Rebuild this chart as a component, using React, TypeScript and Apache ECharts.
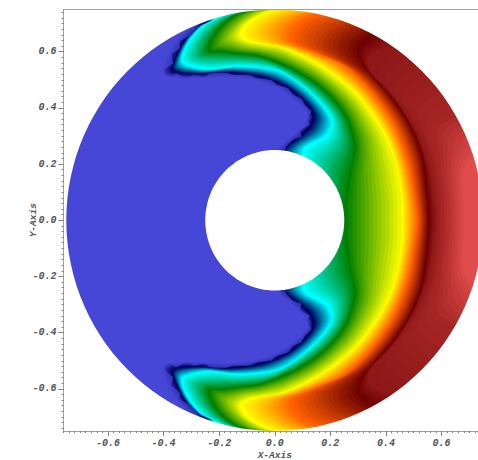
import React, { useEffect, useRef } from "react";
import * as echarts from "echarts";

const xRange = [-0.76, 0.76];
const yRange = [-0.75, 0.75];
const majorTicks = [-0.6, -0.4, -0.2, 0, 0.2, 0.4, 0.6];
const xMinorTicks: number[] = [];
for (let i = -38; i <= 38; i++) xMinorTicks.push(i / 50);
const yMinorTicks: number[] = [];
for (let i = -37; i <= 37; i++) yMinorTicks.push(i / 50);
const outerRadius = 0.75;
const innerRadius = 0.25;

// hot_desaturated colour stops, by field level
const colorStops = [
  [71, 71, 215], [0, 0, 91], [0, 255, 255], [0, 127, 0],
  [255, 255, 0], [255, 96, 0], [107, 0, 0], [224, 76, 76],
];

// Iso-contours of the field in the upper half (the lower half mirrors them)
const contour0 = [[-0.02,0],[-0.02,0.19],[0.006,0.25],[0.102,0.336],[0.118,0.375],[0.084,0.416],[0.018,0.464],[-0.066,0.496],[-0.174,0.508],[-0.282,0.503],[-0.402,0.517],[-0.39,0.582],[-0.354,0.642],[-0.312,0.683],[-0.27,0.707],[-0.3,0.78]];
const contour1 = [[0,0],[0,0.19],[0.03,0.25],[0.12,0.327],[0.138,0.375],[0.102,0.428],[0.03,0.482],[-0.066,0.514],[-0.174,0.526],[-0.282,0.521],[-0.366,0.533],[-0.352,0.588],[-0.318,0.648],[-0.276,0.689],[-0.24,0.711],[-0.265,0.78]];
const contour2 = [[0.16,0],[0.13,0.14],[0.102,0.25],[0.186,0.304],[0.204,0.351],[0.174,0.405],[0.102,0.476],[0.018,0.529],[-0.126,0.547],[-0.246,0.537],[-0.33,0.559],[-0.333,0.588],[-0.306,0.642],[-0.264,0.689],[-0.216,0.719],[-0.24,0.79]];
const contour3 = [[0.25,0],[0.25,0.06],[0.262,0.15],[0.284,0.26],[0.25,0.375],[0.16,0.476],[0.054,0.541],[-0.054,0.582],[-0.126,0.591],[-0.198,0.6],[-0.24,0.6],[-0.231,0.642],[-0.198,0.689],[-0.15,0.727],[-0.114,0.745],[-0.12,0.8]];
const contour4 = [[0.456,0],[0.456,0.072],[0.43,0.215],[0.385,0.32],[0.29,0.45],[0.16,0.55],[0.018,0.618],[-0.054,0.628],[-0.096,0.636],[-0.126,0.656],[-0.12,0.677],[-0.096,0.707],[-0.06,0.728],[-0.024,0.745],[0.006,0.752],[0.01,0.8]];
const contour5 = [[0.512,0],[0.504,0.072],[0.48,0.203],[0.426,0.345],[0.342,0.464],[0.246,0.553],[0.138,0.6],[0.06,0.636],[0.054,0.66],[0.066,0.683],[0.09,0.707],[0.12,0.725],[0.15,0.734],[0.174,0.739],[0.198,0.743],[0.21,0.8]];
const contour6 = [[0.552,0],[0.548,0.072],[0.528,0.227],[0.488,0.333],[0.426,0.428],[0.366,0.499],[0.318,0.553],[0.3,0.588],[0.297,0.612],[0.306,0.63],[0.324,0.644],[0.342,0.656],[0.36,0.662],[0.378,0.66],[0.4,0.67],[0.45,0.75]];
const contour63 = [[0.574,0],[0.57,0.072],[0.55,0.2],[0.51,0.31],[0.45,0.41],[0.4,0.47],[0.35,0.52],[0.335,0.56],[0.34,0.585],[0.36,0.6],[0.38,0.61],[0.4,0.62],[0.42,0.62],[0.44,0.61],[0.46,0.62],[0.5,0.7]];
const contour65 = [[0.6,0],[0.598,0.072],[0.59,0.16],[0.58,0.23],[0.568,0.285],[0.562,0.321],[0.57,0.345],[0.594,0.363],[0.624,0.375],[0.654,0.393],[0.68,0.42],[0.7,0.45],[0.72,0.48],[0.74,0.5],[0.76,0.52],[0.8,0.56]];
const contour7 = [[0.68,0],[0.678,0.072],[0.675,0.16],[0.688,0.2],[0.71,0.22],[0.73,0.24],[0.75,0.26],[0.77,0.28],[0.79,0.3],[0.8,0.32],[0.81,0.34],[0.82,0.36],[0.83,0.38],[0.84,0.4],[0.85,0.42],[0.9,0.45]];

// Jagged outer edge of the uniform blue region
const blueFringe = [[0.02,0.2],[0.042,0.262],[0.066,0.286],[0.096,0.298],[0.09,0.321],[0.126,0.339],[0.114,0.363],[0.132,0.387],[0.108,0.41],[0.096,0.434],[0.066,0.446],[0.048,0.47],[0.006,0.482],[-0.012,0.499],[-0.066,0.505],[-0.09,0.517],[-0.15,0.517],[-0.174,0.525],[-0.234,0.523],[-0.252,0.511],[-0.294,0.517],[-0.318,0.502],[-0.354,0.523],[-0.384,0.502],[-0.396,0.535],[-0.366,0.559],[-0.372,0.588],[-0.342,0.612],[-0.342,0.636],[-0.312,0.654],[-0.27,0.7],[-0.29,0.78]];

const contourLevels = [0, 1, 2, 3, 4, 5, 6, 6.3, 6.5, 7];
const contours = [contour0, contour1, contour2, contour3, contour4, contour5, contour6, contour63, contour65, contour7];

const axisFont = { fontFamily: "Liberation Mono", fontWeight: "bold" as const, fontStyle: "italic" as const, fontSize: 10, color: "#555" };
const frameLine = { show: true, onZero: false, lineStyle: { color: "#a0a0a0", width: 1 } };
const tickColor = "#808080";

function colorAt(level: number) {
  const i = Math.min(Math.floor(level), colorStops.length - 2);
  const f = level - i;
  const c = colorStops[i].map((v, k) => Math.round(v + (colorStops[i + 1][k] - v) * f));
  return `rgb(${c[0]},${c[1]},${c[2]})`;
}

function contourAt(level: number) {
  let i = 0;
  while (i < contourLevels.length - 2 && level > contourLevels[i + 1]) i++;
  const f = (level - contourLevels[i]) / (contourLevels[i + 1] - contourLevels[i]);
  return contours[i].map((p, k) => [
    p[0] + (contours[i + 1][k][0] - p[0]) * f,
    p[1] + (contours[i + 1][k][1] - p[1]) * f,
  ]);
}

const bandLevels: number[] = [];
for (let i = 0; i < contourLevels.length - 1; i++) {
  const steps = contourLevels[i] >= 6 ? 8 : 14;
  for (let s = 0; s < steps; s++) {
    bandLevels.push(contourLevels[i] + ((contourLevels[i + 1] - contourLevels[i]) * s) / steps);
  }
}
bandLevels.push(7);

function circlePoints(r: number) {
  const pts: number[][] = [];
  for (let a = 0; a <= 360; a += 3) {
    const t = Math.PI + (a * Math.PI) / 180;
    pts.push([r * Math.cos(t), r * Math.sin(t)]);
  }
  return pts;
}

function renderBand(params: any, api: any) {
  const level = api.value(0);
  const upper = contourAt(level);
  const pts = [
    ...upper,
    [1, 0.95],
    [1, -0.95],
    ...upper.slice().reverse().map((p) => [p[0], -p[1]]),
  ].map((p) => api.coord(p));
  return { type: "polygon", shape: { points: pts, smooth: 0.3 }, style: { fill: colorAt(level) } };
}

function renderBase(params: any, api: any) {
  const pts = [[-1, -1], [1, -1], [1, 1], [-1, 1]].map((p) => api.coord(p));
  return { type: "polygon", shape: { points: pts }, style: { fill: colorAt(0) } };
}

function renderFringe(params: any, api: any) {
  const pts = [
    ...blueFringe,
    [-1, 0.95],
    [-1, -0.95],
    ...blueFringe.slice().reverse().map((p) => [p[0], -p[1]]),
  ].map((p) => api.coord(p));
  return { type: "polygon", shape: { points: pts, smooth: 0.2 }, style: { fill: colorAt(0), opacity: 0.65 } };
}

function renderMask(params: any, api: any) {
  const which = api.value(0);
  if (which === 0) {
    const ring = circlePoints(outerRadius).reverse();
    const pts = [[-1, 0], [-1, -1], [1, -1], [1, 1], [-1, 1], [-1, 0], ...ring].map((p) => api.coord(p));
    return { type: "polygon", shape: { points: pts }, style: { fill: "#fff" } };
  }
  return { type: "polygon", shape: { points: circlePoints(innerRadius).map((p) => api.coord(p)) }, style: { fill: "#fff" } };
}

export default function App() {
  const ref = useRef<HTMLDivElement>(null);
  useEffect(() => {
    document.body.style.margin = "0";
    const chart = echarts.init(ref.current!, undefined, { renderer: "svg" });
    const xBase = { type: "value", min: xRange[0], max: xRange[1], splitLine: { show: false }, z: 10 };
    const yBase = { type: "value", min: yRange[0], max: yRange[1], splitLine: { show: false }, z: 10 };
    chart.setOption({
      animation: false,
      backgroundColor: "#fff",
      grid: { left: 63.5, top: 9.5, width: 422.5, height: 421.5, outerBoundsMode: "none" },
      xAxis: [
        {
          ...xBase, position: "bottom", axisLine: frameLine,
          name: "X-Axis", nameLocation: "middle", nameGap: 19, nameMoveOverlap: false, nameTextStyle: { ...axisFont, fontSize: 9.5 },
          axisTick: { show: true, customValues: majorTicks, length: 5, lineStyle: { color: tickColor } },
          axisLabel: { show: true, customValues: majorTicks, margin: 7, formatter: (v: number) => v.toFixed(1), ...axisFont },
        },
        { ...xBase, position: "bottom", axisLine: frameLine, axisLabel: { show: false }, axisTick: { show: true, customValues: xMinorTicks, length: 2, lineStyle: { color: tickColor } } },
        { ...xBase, position: "top", axisLine: frameLine, axisLabel: { show: false }, axisTick: { show: false } },
      ],
      yAxis: [
        {
          ...yBase, position: "left", axisLine: frameLine,
          name: "Y-Axis", nameLocation: "middle", nameGap: 25, nameMoveOverlap: false, nameTextStyle: { ...axisFont, fontSize: 9.5 },
          axisTick: { show: true, customValues: majorTicks, length: 5, lineStyle: { color: tickColor } },
          axisLabel: { show: true, customValues: majorTicks, margin: 7, formatter: (v: number) => v.toFixed(1), ...axisFont },
        },
        { ...yBase, position: "left", axisLine: frameLine, axisLabel: { show: false }, axisTick: { show: true, customValues: yMinorTicks, length: 2, lineStyle: { color: tickColor } } },
        { ...yBase, position: "right", axisLine: frameLine, axisLabel: { show: false }, axisTick: { show: false } },
      ],
      series: [
        { type: "custom", name: "base", clip: true, z: 1, renderItem: renderBase, data: [[0]], encode: { x: 0 } },
        { type: "custom", name: "field", clip: true, z: 2, renderItem: renderBand, data: bandLevels.map((l) => [l]), encode: { x: 0 } },
        { type: "custom", name: "fringe", clip: true, z: 3, renderItem: renderFringe, data: [[0]], encode: { x: 0 } },
        { type: "custom", name: "mask", clip: true, z: 4, renderItem: renderMask, data: [[0], [1]], encode: { x: 0 } },
      ],
    });
    return () => chart.dispose();
  }, []);
  return (
    <div style={{ width: 478, height: 460, overflow: "hidden" }}>
      <div ref={ref} style={{ width: 500, height: 460 }} />
    </div>
  );
}
